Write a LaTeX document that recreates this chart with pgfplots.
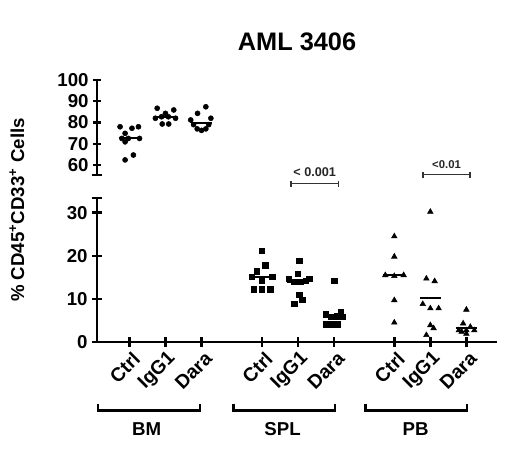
\documentclass[border=0pt]{standalone}
\usepackage{fontspec}
\setmainfont{Liberation Sans}
\usepackage{pgfplots}
\pgfplotsset{compat=1.18}

\pgfplotstableread{
x y
0.74 78.0
1.07 77.3
1.25 78.0
0.88 74.9
0.79 72.5
0.97 72.5
1.28 72.5
0.88 70.9
1.11 64.7
0.88 62.4
}\bmctrl
\pgfplotstableread{
x y
1.77 86.7
2.23 85.9
2.00 84.3
1.89 82.7
2.08 82.7
1.72 82.0
2.28 82.0
1.91 79.3
2.09 79.3
}\bmigg
\pgfplotstableread{
x y
3.12 87.4
2.89 84.3
3.26 82.0
2.70 81.2
2.78 79.0
3.20 79.0
2.88 77.0
3.00 76.3
3.12 77.0
}\bmdara
\pgfplotstableread{
x y
4.68 21.2
4.77 17.8
4.54 16.4
4.40 15.1
4.96 15.1
4.68 14.3
4.45 12.2
4.68 12.2
4.91 12.2
}\splctrl
\pgfplotstableread{
x y
5.71 18.9
5.68 15.8
5.43 14.7
5.99 14.7
5.57 13.9
5.75 13.9
5.89 14.2
5.71 11.0
5.80 9.8
5.57 8.8
}\spligg
\pgfplotstableread{
x y
6.68 14.2
6.45 6.4
6.87 6.9
6.91 5.9
6.59 5.9
6.77 6.0
6.45 4.1
6.61 4.1
6.77 4.1
}\spldara
\pgfplotstableread{
x y
8.35 24.5
8.35 19.8
8.10 15.5
8.35 15.3
8.61 15.5
8.35 9.7
8.35 4.5
}\pbctrl
\pgfplotstableread{
x y
9.35 30.2
9.24 14.7
9.47 14.1
9.14 8.8
9.35 7.8
9.58 7.8
9.35 3.9
9.44 3.2
9.24 1.6
}\pbigg
\pgfplotstableread{
x y
10.35 7.5
10.26 4.3
10.46 3.5
10.14 2.7
10.35 2.7
10.57 2.7
10.35 1.9
10.22 2.4
}\pbdara

\tikzset{
 bracket/.style={line width=1.8pt, black},
 sig/.style={line width=1pt, black!80},
}

\begin{document}
\begin{tikzpicture}
\path[use as bounding box] (0,0) rectangle (390pt,-347.25pt);
\pgfplotsset{
 common/.style={
  scale only axis, width=300pt, xmin=0.1, xmax=11.2, anchor=south west,
  tick style={line width=1.8pt, black},
  tick align=outside,
  /pgf/number format/assume math mode=true,
  ticklabel style={font=\fontsize{14}{16}\selectfont\bfseries},
  clip=false,
 },
 nolinearrows/.style={
  axis line style={line width=2pt,-},
  every outer x axis line/.append style={-},
  every outer y axis line/.append style={-},
  every inner x axis line/.append style={-},
  every inner y axis line/.append style={-},
 },
 meanline/.style={line width=1.5pt, black},
}
% lower axis
\begin{axis}[common, at={(72.75pt,-256.5pt)}, height=108pt, ymin=0, ymax=33.4,
  axis x line=bottom, axis y line=left, nolinearrows, ytick={0,10,20,30},
  major tick length=7pt,
  xtick={1,2,3,4.68,5.68,6.68,8.35,9.35,10.35},
  xticklabels={Ctrl,IgG1,Dara,Ctrl,IgG1,Dara,Ctrl,IgG1,Dara},
  xticklabel style={rotate=45, anchor=east, font=\fontsize{14.5}{16}\selectfont\bfseries, xshift=2.5pt, yshift=-8.5pt},
]
\addplot[only marks, mark=square*, mark size=2pt, black] table {\splctrl};
\addplot[only marks, mark=square*, mark size=2pt, black] table {\spligg};
\addplot[only marks, mark=square*, mark size=2pt, black] table {\spldara};
\addplot[only marks, mark=triangle*, mark size=2.4pt, black] table {\pbctrl};
\addplot[only marks, mark=triangle*, mark size=2.4pt, black] table {\pbigg};
\addplot[only marks, mark=triangle*, mark size=2.4pt, black] table {\pbdara};
\addplot[meanline] coordinates {(4.38,15.1) (4.98,15.1)};
\addplot[meanline] coordinates {(5.38,13.9) (5.98,13.9)};
\addplot[meanline] coordinates {(6.38,6.3) (6.98,6.3)};
\addplot[meanline] coordinates {(8.05,15.5) (8.65,15.5)};
\addplot[meanline] coordinates {(9.05,10.3) (9.65,10.3)};
\addplot[meanline] coordinates {(10.05,3.2) (10.65,3.2)};
% cap at top of y axis
\draw[line width=2pt] ([xshift=-4pt]axis cs:0.1,33.4) -- ([xshift=4pt]axis cs:0.1,33.4);
% group brackets
\draw[bracket] (axis cs:0.13,-14.3) -- (axis cs:0.13,-15.85) -- (axis cs:2.96,-15.85) -- (axis cs:2.96,-14.3);
\draw[bracket] (axis cs:3.89,-14.3) -- (axis cs:3.89,-15.85) -- (axis cs:6.71,-15.85) -- (axis cs:6.71,-14.3);
\draw[bracket] (axis cs:7.55,-14.3) -- (axis cs:7.55,-15.85) -- (axis cs:10.37,-15.85) -- (axis cs:10.37,-14.3);
\node[font=\fontsize{14}{16}\selectfont\bfseries] at (axis cs:1.48,-20.1) {BM};
\node[font=\fontsize{14}{16}\selectfont\bfseries] at (axis cs:5.25,-20.1) {SPL};
\node[font=\fontsize{14}{16}\selectfont\bfseries] at (axis cs:8.94,-20.1) {PB};
% significance bars
\draw[sig] (axis cs:5.48,36.7) -- (axis cs:6.81,36.7);
\draw[sig] (axis cs:5.48,36.0) -- (axis cs:5.48,37.4);
\draw[sig] (axis cs:6.81,36.0) -- (axis cs:6.81,37.4);
\node[font=\fontsize{9.5}{11}\selectfont\bfseries, black!85] at (axis cs:6.14,39.3) {< 0.001};
\draw[sig] (axis cs:9.15,38.8) -- (axis cs:10.45,38.8);
\draw[sig] (axis cs:9.15,38.1) -- (axis cs:9.15,39.5);
\draw[sig] (axis cs:10.45,38.1) -- (axis cs:10.45,39.5);
\node[font=\fontsize{8.5}{10}\selectfont\bfseries, black!85] at (axis cs:9.8,41.1) {<0.01};
\end{axis}
% upper axis
\begin{axis}[common, at={(72.75pt,-131.25pt)}, height=71.25pt, ymin=55.3, ymax=100,
  axis x line=none, axis y line=left, nolinearrows, ytick={60,70,80,90,100},
  major tick length=5.5pt,
]
\addplot[only marks, mark=*, mark size=1.9pt, black] table {\bmctrl};
\addplot[only marks, mark=*, mark size=1.9pt, black] table {\bmigg};
\addplot[only marks, mark=*, mark size=1.9pt, black] table {\bmdara};
\addplot[meanline] coordinates {(0.7,72.5) (1.3,72.5)};
\addplot[meanline] coordinates {(1.7,82.7) (2.3,82.7)};
\addplot[meanline] coordinates {(2.7,79.6) (3.3,79.6)};
\draw[line width=2pt] ([xshift=-4pt]axis cs:0.1,55.3) -- ([xshift=4pt]axis cs:0.1,55.3);
\end{axis}
\node[rotate=90, font=\fontsize{14}{16}\selectfont\bfseries] at (12.75pt,-157.5pt) {\% CD45\textsuperscript{+}CD33\textsuperscript{+} Cells};
\node[font=\fontsize{19}{22}\selectfont\bfseries] at (222.75pt,-31.5pt) {AML 3406};
\end{tikzpicture}
\end{document}
